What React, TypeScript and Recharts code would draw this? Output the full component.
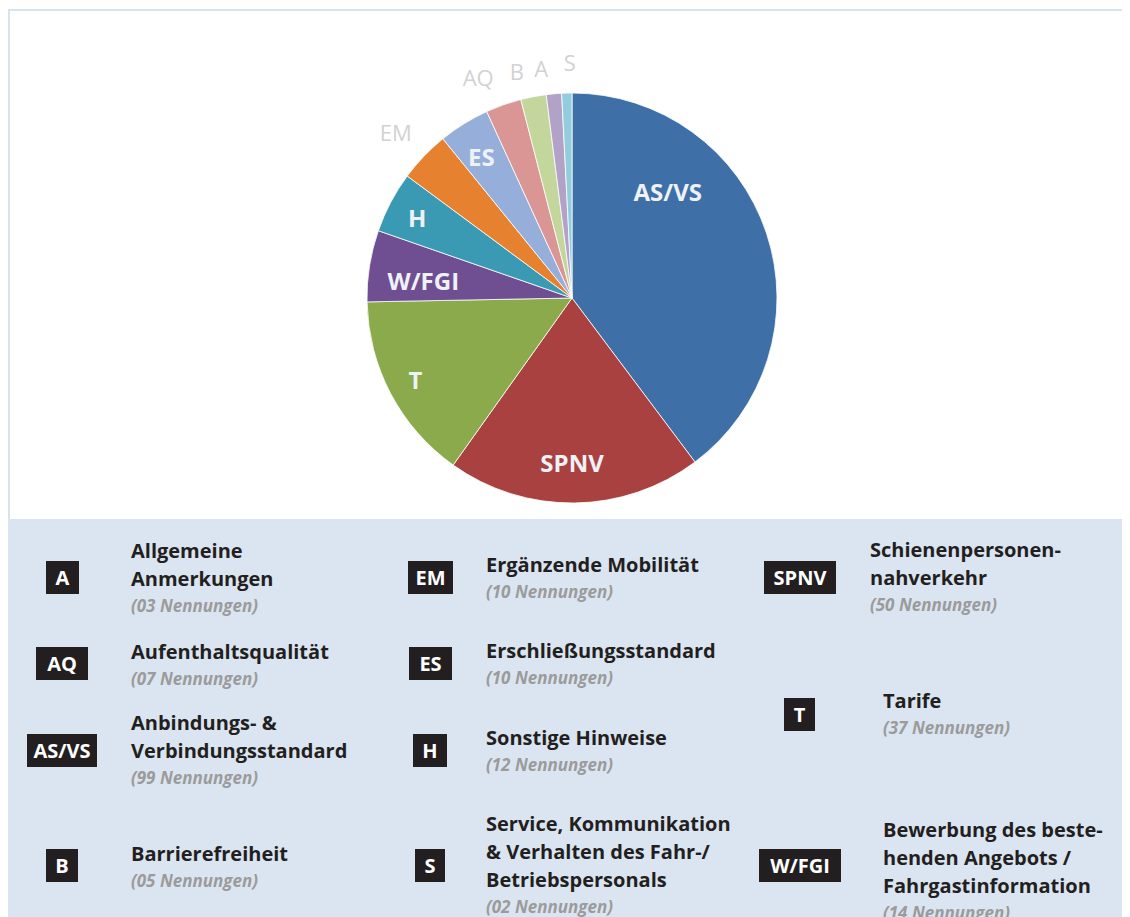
import { PieChart, Pie, Cell } from 'recharts';

// Kategorien und Nennungen (im Uhrzeigersinn ab 12 Uhr)
const codes = ['AS/VS', 'SPNV', 'T', 'W/FGI', 'H', 'EM', 'ES', 'AQ', 'B', 'A', 'S'];
const counts = [99, 50, 37, 14, 12, 10, 10, 7, 5, 3, 2];
const names = [
  ['Anbindungs- &', 'Verbindungsstandard'],
  ['Schienenpersonen-', 'nahverkehr'],
  ['Tarife'],
  ['Bewerbung des beste-', 'henden Angebots /', 'Fahrgastinformation'],
  ['Sonstige Hinweise'],
  ['Ergänzende Mobilität'],
  ['Erschließungsstandard'],
  ['Aufenthaltsqualität'],
  ['Barrierefreiheit'],
  ['Allgemeine', 'Anmerkungen'],
  ['Service, Kommunikation', '& Verhalten des Fahr-/', 'Betriebspersonals'],
];
const colors = [
  '#3E6FA7', '#A8413F', '#8BAA4B', '#6F4E91', '#3A9AB3', '#E6822F',
  '#95AFDA', '#D99694', '#C3D69B', '#B3A2C7', '#93CDDD',
];

// label placement: shift (deg, clockwise) from slice middle, distance as share of radius
const labelShift = [-29.7, 0.7, 0.4, -2.5, -0.5, -0.5, -0.8, -3.5, -2.8, -2.6, 0.9];
const labelDist = [0.7, 0.8, 0.86, 0.73, 0.85, 1.18, 0.82, 1.17, 1.14, 1.13, 1.15];

// legend layout (relative to the frame)
const legendLayout: Record<string, { bx: number; by: number; bw: number; tx: number; ty: number }> = {
  'A': { bx: 38, by: 553, bw: 33, tx: 123, ty: 529 },
  'AQ': { bx: 28, by: 639, bw: 52, tx: 123, ty: 630 },
  'AS/VS': { bx: 19, by: 726, bw: 70, tx: 123, ty: 701 },
  'B': { bx: 38, by: 841, bw: 32, tx: 123, ty: 832 },
  'EM': { bx: 400, by: 553, bw: 45, tx: 478, ty: 543 },
  'ES': { bx: 401, by: 639, bw: 43, tx: 478, ty: 629 },
  'H': { bx: 405, by: 726, bw: 34, tx: 478, ty: 716 },
  'S': { bx: 407, by: 841, bw: 30, tx: 478, ty: 802 },
  'SPNV': { bx: 756, by: 553, bw: 72, tx: 862, ty: 528 },
  'T': { bx: 776, by: 690, bw: 31, tx: 875, ty: 679 },
  'W/FGI': { bx: 751, by: 841, bw: 82, tx: 875, ty: 808 },
};

const data = codes.map((c, i) => ({ code: c, value: counts[i] }));
const FONT = '"Open Sans", "Noto Sans", sans-serif';
const RAD = Math.PI / 180;

function renderLabel(p: any) {
  const i = typeof p.index === 'number' ? p.index : codes.indexOf(p.code);
  const a = p.midAngle - labelShift[i];
  const r = p.outerRadius * labelDist[i];
  const x = p.cx + r * Math.cos(-a * RAD);
  const y = p.cy + r * Math.sin(-a * RAD);
  const outside = labelDist[i] > 1;
  return (
    <text
      x={x}
      y={y}
      textAnchor="middle"
      dominantBaseline="central"
      fontFamily={FONT}
      fontSize={outside ? 22 : 24}
      fontWeight={outside ? 400 : 700}
      fill={outside ? '#D2D2D2' : '#EEF1F6'}
    >
      {codes[i]}
    </text>
  );
}

export default function App() {
  return (
    <div style={{ position: 'relative', width: 1122, height: 909, overflow: 'hidden', background: '#fff', fontFamily: FONT }}>
      <div style={{ position: 'absolute', left: 0, top: 1, width: 1122, height: 2, background: '#D7E3EF' }} />
      <div style={{ position: 'absolute', left: 0, top: 1, width: 2, height: 510, background: '#D7E3EF' }} />
      <div style={{ position: 'absolute', left: 0, top: 511, width: 1122, height: 398, background: '#DBE5F1' }} />

      <div style={{ position: 'absolute', left: 0, top: 0 }}>
        <PieChart width={1122} height={511}>
          <Pie
            data={data}
            dataKey="value"
            nameKey="code"
            cx={559}
            cy={285}
            outerRadius={205}
            startAngle={90}
            endAngle={-270}
            stroke="#ffffff"
            strokeWidth={0.8}
            label={renderLabel}
            labelLine={false}
            isAnimationActive={false}
          >
            {data.map((d, i) => (
              <Cell key={d.code} fill={colors[i]} />
            ))}
          </Pie>
        </PieChart>
      </div>

      {codes.map((c, i) => {
        const l = legendLayout[c];
        return (
          <div key={c}>
            <div
              style={{
                position: 'absolute', left: l.bx, top: l.by, width: l.bw, height: 33,
                background: '#231F20', color: '#fff', fontWeight: 700, fontSize: 20,
                lineHeight: '33px', textAlign: 'center', whiteSpace: 'nowrap',
              }}
            >
              {c}
            </div>
            <div style={{ position: 'absolute', left: l.tx, top: l.ty, whiteSpace: 'nowrap' }}>
              {names[i].map((line) => (
                <div key={line} style={{ fontSize: 20, fontWeight: 700, lineHeight: '28px', color: '#231F20' }}>
                  {line}
                </div>
              ))}
              <div style={{ fontSize: 17, fontWeight: 700, fontStyle: 'italic', lineHeight: '26px', color: '#9B9B9B' }}>
                {`(${String(counts[i]).padStart(2, '0')} Nennungen)`}
              </div>
            </div>
          </div>
        );
      })}
    </div>
  );
}
